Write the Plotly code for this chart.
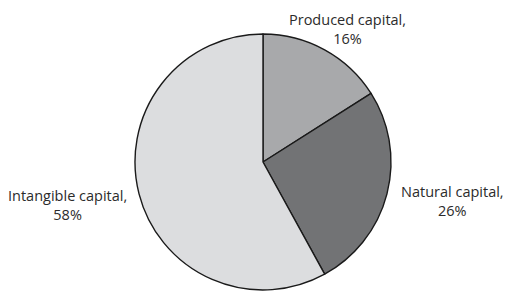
import plotly.graph_objects as go

labels = ["Produced capital", "Natural capital", "Intangible capital"]
values = [16, 26, 58]
colors = ["#a8a9ab", "#727375", "#dcdddf"]

W, H = 506, 291
cx, cy, r = 263, 162, 128

# label anchor positions (pixel centres -> paper coords)
label_px = [(347, 29), (452, 201), (67, 205)]

fig = go.Figure(go.Pie(
    labels=labels, values=values, sort=False, direction="clockwise", rotation=0,
    marker=dict(colors=colors, line=dict(color="#1a1a1a", width=1.4)),
    textinfo="none", hoverinfo="label+percent", showlegend=False,
    domain=dict(x=[(cx - r) / W, (cx + r) / W], y=[1 - (cy + r) / H, 1 - (cy - r) / H]),
))

for lab, val, (px, py) in zip(labels, values, label_px):
    fig.add_annotation(x=px / W, y=1 - py / H, xref="paper", yref="paper",
                       xanchor="center", yanchor="middle", showarrow=False,
                       text=f"{lab},<br>{val}%", align="center",
                       font=dict(family="Open Sans", size=14.5, color="#2b2b2b"))

fig.update_layout(width=W, height=H, margin=dict(l=0, r=0, t=0, b=0),
                  paper_bgcolor="white", plot_bgcolor="white")
fig.write_html("out.html", config={"displayModeBar": False},
               post_script="document.body.style.margin='0px';")
